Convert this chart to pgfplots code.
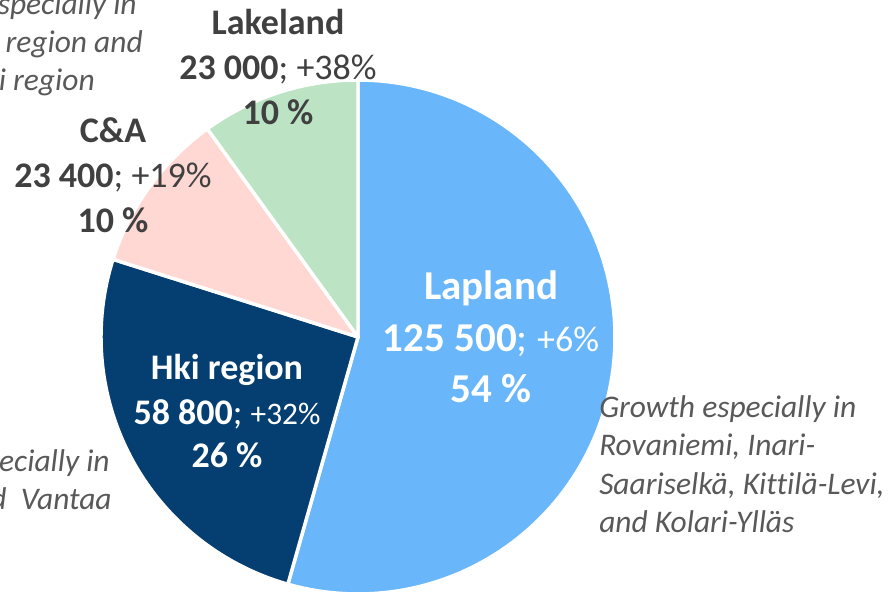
\documentclass[border=0pt]{standalone}
\usepackage{pgfplots}
\pgfplotsset{compat=1.18}
\usepackage{pgfplotstable}
\usepackage{fontspec}
\setmainfont[Ligatures=NoCommon]{Carlito}
\definecolor{lap}{HTML}{69B7FA}
\definecolor{hki}{HTML}{053F72}
\definecolor{ca}{HTML}{FFD8D3}
\definecolor{lake}{HTML}{BBE3C4}
\definecolor{txt}{HTML}{404040}
\definecolor{note}{HTML}{595959}

% values in thousands of overnight stays; growth in percent
\pgfplotstableread{
name value growth
Lapland 125.5 6
Hki 58.8 32
CA 23.4 19
Lakeland 23.0 38
}\piedata

\pgfplotstablegetelem{0}{value}\of\piedata \let\vA\pgfplotsretval
\pgfplotstablegetelem{1}{value}\of\piedata \let\vB\pgfplotsretval
\pgfplotstablegetelem{2}{value}\of\piedata \let\vC\pgfplotsretval
\pgfplotstablegetelem{3}{value}\of\piedata \let\vD\pgfplotsretval
\pgfmathsetmacro\tot{\vA+\vB+\vC+\vD}
\pgfmathsetmacro\aA{90}
\pgfmathsetmacro\aB{\aA-\vA/\tot*360}
\pgfmathsetmacro\aC{\aB-\vB/\tot*360}
\pgfmathsetmacro\aD{\aC-\vC/\tot*360}
\pgfmathsetmacro\aE{\aD-\vD/\tot*360}

\def\cx{358}
\def\cy{256}
\def\r{257}

\begin{document}
\begin{tikzpicture}
\path[use as bounding box, clip] (0,0) rectangle (670.5pt,444.75pt);
\begin{axis}[
  at={(0,0)}, anchor=south west,
  scale only axis, width=670.5pt, height=444.75pt,
  xmin=0, xmax=894, ymin=0, ymax=593,
  hide axis, clip=false,
]
\addplot[fill=lap, draw=white, line width=2.6pt, line join=round, domain=\aB:\aA, samples=120, variable=\t]
  ({\cx+\r*cos(\t)},{\cy+\r*sin(\t)}) -- (axis cs:\cx,\cy) -- cycle;
\addplot[fill=hki, draw=white, line width=2.6pt, line join=round, domain=\aC:\aB, samples=80, variable=\t]
  ({\cx+\r*cos(\t)},{\cy+\r*sin(\t)}) -- (axis cs:\cx,\cy) -- cycle;
\addplot[fill=ca, draw=white, line width=2.6pt, line join=round, domain=\aD:\aC, samples=40, variable=\t]
  ({\cx+\r*cos(\t)},{\cy+\r*sin(\t)}) -- (axis cs:\cx,\cy) -- cycle;
\addplot[fill=lake, draw=white, line width=2.6pt, line join=round, domain=\aE:\aD, samples=40, variable=\t]
  ({\cx+\r*cos(\t)},{\cy+\r*sin(\t)}) -- (axis cs:\cx,\cy) -- cycle;

% slice labels
\tikzset{lbl/.style={anchor=base, inner sep=0pt, font=\fontsize{27pt}{32pt}\selectfont}}
\node[lbl, text=white, font=\fontsize{30.75pt}{36pt}\selectfont\bfseries] at (axis cs:491,293) {Lapland};
\node[lbl, text=white, font=\fontsize{30.75pt}{36pt}\selectfont] at (axis cs:491,241) {\textbf{125 500}; {\fontsize{27pt}{32pt}\selectfont +6\%}};
\node[lbl, text=white, font=\fontsize{30.75pt}{36pt}\selectfont\bfseries] at (axis cs:491,190) {54 \%};

\node[lbl, text=txt, font=\fontsize{27pt}{32pt}\selectfont\bfseries] at (axis cs:278,558) {Lakeland};
\node[lbl, text=txt] at (axis cs:278,513) {\textbf{23 000}; +38\%};
\node[lbl, text=txt, font=\fontsize{27pt}{32pt}\selectfont\bfseries] at (axis cs:278,468) {10 \%};

\node[lbl, text=txt, font=\fontsize{27pt}{32pt}\selectfont\bfseries] at (axis cs:113,450) {C\&A};
\node[lbl, text=txt] at (axis cs:113,405) {\textbf{23 400}; +19\%};
\node[lbl, text=txt, font=\fontsize{27pt}{32pt}\selectfont\bfseries] at (axis cs:113,360) {10 \%};

\node[lbl, text=white, font=\fontsize{27pt}{32pt}\selectfont\bfseries] at (axis cs:227,213) {Hki region};
\node[lbl, text=white] at (axis cs:227,168) {\textbf{58 800}; {\fontsize{23.5pt}{28pt}\selectfont +32\%}};
\node[lbl, text=white, font=\fontsize{27pt}{32pt}\selectfont\bfseries] at (axis cs:227,125) {26 \%};

% annotations
\tikzset{ann/.style={inner sep=0pt, text=note, font=\fontsize{23.6pt}{28pt}\selectfont\itshape}}
\node[ann, anchor=base west] at (axis cs:599,175) {Growth especially in};
\node[ann, anchor=base west] at (axis cs:599,137) {Rovaniemi, Inari-};
\node[ann, anchor=base west] at (axis cs:599,98.5) {Saariselkä, Kittilä-Levi,};
\node[ann, anchor=base west] at (axis cs:599,60) {and Kolari-Ylläs};

\node[ann, anchor=base east] at (axis cs:137,578) {Growth especially in};
\node[ann, anchor=base east] at (axis cs:143,540) {Tampere region and};
\node[ann, anchor=base east] at (axis cs:95,502) {Helsinki region};

\node[ann, anchor=base east] at (axis cs:110,121.3) {Growth especially in};
\node[ann, anchor=base east] at (axis cs:112,83) {Espoo and\ \ Vantaa};
\end{axis}
\end{tikzpicture}
\end{document}
